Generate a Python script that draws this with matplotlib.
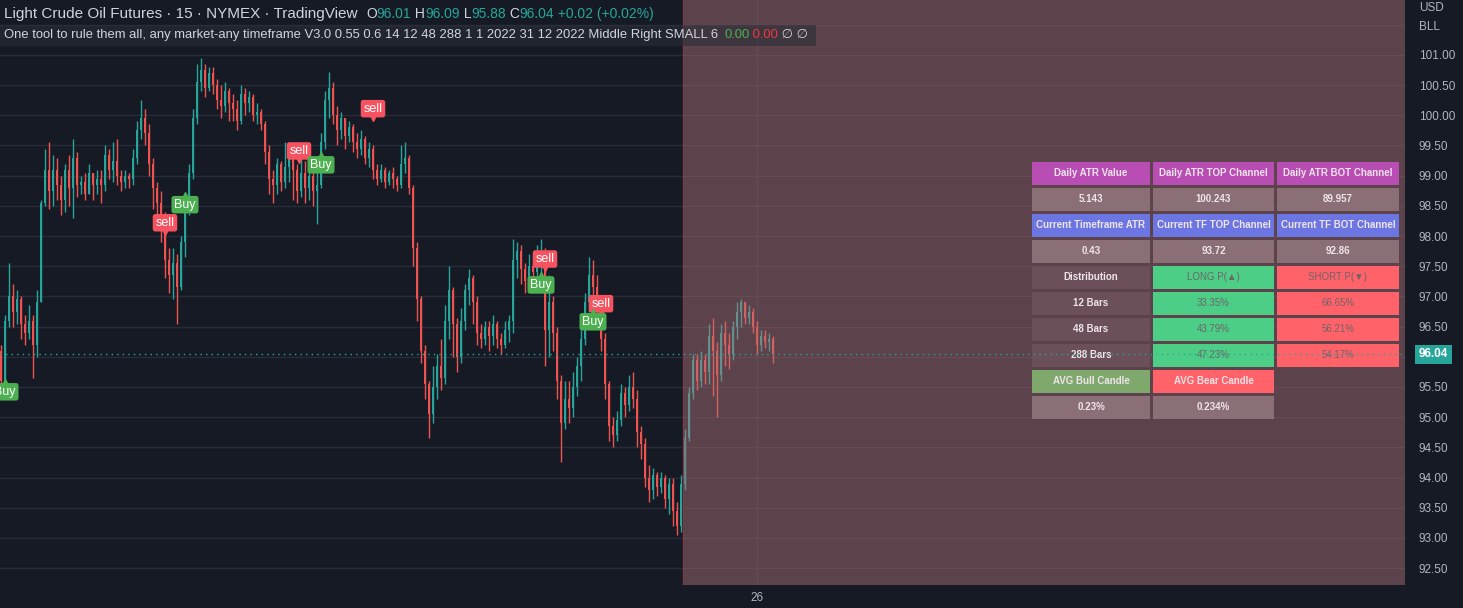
import matplotlib
matplotlib.use('Agg')
import matplotlib.pyplot as plt
from matplotlib.patches import Rectangle
from matplotlib.transforms import blended_transform_factory, ScaledTranslation

plt.rcParams['font.family'] = ['Liberation Sans', 'DejaVu Sans']

# --- 15 min bars (open = previous close) ---
first_open = 96.10
closes = [
    95.60, 96.60, 97.00, 96.75, 96.95, 96.55, 96.40, 96.60, 96.20, 96.90,
    98.55, 99.10, 98.75, 99.10, 98.85, 98.60, 99.10, 98.80, 99.30, 98.85,
    98.90, 98.70, 99.05, 98.85, 98.95, 98.85, 99.35, 99.10, 99.25, 99.00,
    98.90, 99.00, 98.95, 99.30, 99.75, 99.95, 99.70, 99.20, 98.80, 98.55,
    98.30, 97.60, 97.35, 97.55, 97.15, 97.90, 98.40, 99.05, 99.95, 100.55,
    100.75, 100.45, 100.70, 100.50, 100.25, 100.15, 100.40, 100.20, 100.10, 99.90,
    100.35, 100.20, 100.30, 100.00, 100.05, 99.85, 99.40, 98.95, 98.85, 99.20,
    98.90, 99.15, 99.40, 99.10, 98.75, 99.05, 98.80, 99.00, 98.75, 98.85,
    99.55, 100.25, 100.45, 100.00, 99.75, 99.95, 99.65, 99.80, 99.55, 99.45,
    99.60, 99.30, 99.45, 99.10, 98.95, 99.10, 98.90, 99.05, 98.95, 98.85,
    99.20, 99.30, 98.80, 97.80, 96.95, 96.10, 95.55, 95.05, 95.50, 95.85,
    95.65, 96.60, 97.10, 96.55, 96.00, 96.60, 97.10, 97.30, 96.90, 96.40,
    96.30, 96.50, 96.35, 96.55, 96.30, 96.20, 96.45, 96.60, 97.60, 97.75,
    97.45, 97.25, 97.50, 97.40, 97.60, 97.75, 96.45, 96.90, 96.40, 95.60,
    94.90, 95.30, 95.15, 95.50, 95.85, 96.30, 96.90, 97.35, 97.15, 96.85,
    96.30, 95.55, 94.85, 94.70, 94.95, 95.40, 95.20, 95.50, 95.30, 94.75,
    94.55, 94.00, 93.80, 94.05, 93.85, 94.00, 93.65, 93.90, 93.45, 93.20,
    93.90, 94.65, 95.40, 95.95, 95.60, 95.95, 95.75, 96.35, 96.10, 95.70,
    96.40, 96.20, 96.05, 96.50, 96.75, 96.90, 96.65, 96.75, 96.50, 96.20,
    96.35, 96.25, 96.30, 96.04,
]
highs = [
    96.20, 96.70, 97.55, 97.20, 97.10, 97.00, 96.70, 96.85, 96.70, 97.10,
    98.60, 99.45, 99.55, 99.35, 99.30, 99.00, 99.20, 99.35, 99.60, 99.40,
    99.00, 99.05, 99.20, 99.00, 99.10, 99.10, 99.50, 99.45, 99.55, 99.60,
    99.10, 99.10, 99.05, 99.45, 99.90, 100.25, 100.10, 99.85, 99.30, 98.90,
    98.75, 98.40, 97.80, 97.80, 97.70, 98.00, 98.55, 99.20, 100.10, 100.85,
    100.95, 100.85, 100.80, 100.80, 100.60, 100.50, 100.55, 100.45, 100.35, 100.25,
    100.50, 100.45, 100.40, 100.35, 100.20, 100.10, 99.90, 99.50, 99.10, 99.30,
    99.25, 99.55, 99.50, 99.40, 99.20, 99.30, 99.25, 99.20, 99.30, 99.15,
    99.70, 100.40, 100.72, 100.55, 100.15, 100.05, 99.95, 99.90, 99.85, 99.70,
    99.75, 99.65, 99.55, 99.50, 99.20, 99.20, 99.15, 99.10, 99.15, 99.00,
    99.50, 99.55, 99.35, 98.85, 97.90, 97.00, 96.20, 95.60, 95.85, 96.05,
    96.30, 96.85, 97.50, 97.15, 96.65, 96.80, 97.20, 97.45, 97.35, 97.00,
    96.55, 96.60, 96.60, 96.70, 96.60, 96.40, 96.60, 96.70, 97.95, 97.90,
    97.85, 97.55, 97.70, 97.65, 97.85, 97.95, 97.80, 97.35, 97.00, 96.50,
    95.70, 95.60, 95.60, 95.75, 96.00, 96.45, 97.05, 97.65, 97.60, 97.35,
    96.95, 96.40, 95.60, 95.00, 95.10, 95.55, 95.50, 95.70, 95.75, 95.45,
    94.85, 94.65, 94.20, 94.15, 94.10, 94.10, 94.05, 94.00, 94.00, 93.60,
    94.05, 94.80, 95.50, 96.05, 96.05, 96.10, 96.05, 96.55, 96.65, 96.25,
    96.55, 96.60, 96.40, 96.60, 96.90, 96.95, 96.90, 96.85, 96.80, 96.60,
    96.45, 96.45, 96.40, 96.35,
]
lows = [
    95.30, 95.45, 96.50, 96.50, 96.55, 96.30, 96.20, 96.30, 95.65, 96.00,
    96.90, 98.50, 98.45, 98.50, 98.60, 98.35, 98.40, 98.50, 98.30, 98.65,
    98.70, 98.60, 98.75, 98.60, 98.70, 98.55, 98.75, 98.95, 98.90, 98.85,
    98.75, 98.80, 98.80, 98.85, 99.20, 99.60, 99.50, 99.00, 98.45, 98.35,
    97.90, 97.30, 97.05, 96.95, 96.55, 97.10, 97.65, 98.35, 98.95, 99.85,
    100.40, 100.30, 100.40, 100.35, 100.10, 99.95, 100.05, 99.90, 99.90, 99.75,
    99.85, 100.00, 100.05, 99.90, 99.85, 99.75, 99.20, 98.70, 98.55, 98.70,
    98.75, 98.80, 98.90, 98.60, 98.55, 98.65, 98.55, 98.60, 98.50, 98.20,
    98.80, 99.45, 99.95, 99.85, 99.50, 99.60, 99.45, 99.55, 99.40, 99.30,
    99.35, 99.20, 99.15, 98.95, 98.85, 98.90, 98.80, 98.85, 98.80, 98.75,
    98.80, 99.05, 98.70, 97.50, 96.60, 95.90, 95.30, 94.65, 94.90, 95.30,
    95.45, 95.55, 96.30, 96.00, 95.75, 95.90, 96.45, 96.85, 96.55, 96.20,
    96.15, 96.20, 96.10, 96.20, 96.15, 96.05, 96.15, 96.25, 96.40, 97.30,
    97.20, 97.05, 97.15, 97.10, 97.30, 97.35, 95.85, 96.00, 96.10, 95.30,
    94.25, 94.80, 94.90, 95.00, 95.35, 95.60, 96.20, 96.75, 96.90, 96.55,
    96.10, 95.30, 94.60, 94.50, 94.60, 94.85, 95.00, 95.10, 95.15, 94.50,
    94.30, 93.85, 93.60, 93.65, 93.70, 93.75, 93.50, 93.40, 93.20, 93.05,
    93.10, 93.80, 94.60, 95.30, 95.45, 95.50, 95.55, 95.55, 95.35, 95.00,
    95.60, 95.85, 95.80, 95.95, 96.30, 96.50, 96.55, 96.55, 96.40, 96.05,
    96.10, 96.15, 96.10, 95.90,
]
opens = [first_open] + closes[:-1]

# signal labels: bar index, price, kind
signal_bars = [1, 41, 46, 74.5, 80, 93, 136, 135, 150, 148]
signal_prices = [95.42, 98.22, 98.52, 99.41, 99.18, 100.11, 97.62, 97.19, 96.88, 96.58]
signal_kinds = ['Buy', 'sell', 'Buy', 'sell', 'Buy', 'sell', 'sell', 'Buy', 'sell', 'Buy']

session_start = 170.5   # first bar of the highlighted session
day_tick = 189          # "26"
price_ticks = [92.5, 93.0, 93.5, 94.0, 94.5, 95.0, 95.5, 96.5, 97.0, 97.5,
               98.0, 98.5, 99.0, 99.5, 100.0, 100.5, 101.0]
grid_levels = [92.5 + 0.5 * k for k in range(19)]

# legend lines
title = 'Light Crude Oil Futures \u00b7 15 \u00b7 NYMEX \u00b7 TradingView'
ohlc_labels = ['O', 'H', 'L', 'C']
ohlc_values = ['96.01', '96.09', '95.88', '96.04']
change_text = '+0.02 (+0.02%)'
study_text = ('One tool to rule them all, any market-any timeframe V3.0 0.55 0.6 14 12 48 288 '
              '1 1 2022 31 12 2022 Middle Right SMALL 6')
study_values = ['0.00', '0.00', '\u2205', '\u2205']

# indicator table
table_rows = [
    ['Daily ATR Value', 'Daily ATR TOP Channel', 'Daily ATR BOT Channel'],
    ['5.143', '100.243', '89.957'],
    ['Current Timeframe ATR', 'Current TF TOP Channel', 'Current TF BOT Channel'],
    ['0.43', '93.72', '92.86'],
    ['Distribution', 'LONG P(\u25b2)', 'SHORT P(\u25bc)'],
    ['12 Bars', '33.35%', '66.65%'],
    ['48 Bars', '43.79%', '56.21%'],
    ['288 Bars', '47.23%', '54.17%'],
    ['AVG Bull Candle', 'AVG Bear Candle', None],
    ['0.23%', '0.234%', None],
]
PURPLE, VAL, BLUE, DIST = '#b84db4', '#8a7076', '#6c76e2', '#6b4f59'
GREEN, RED, BULL = '#4cce87', '#ff6268', '#7fa86d'
table_colors = [
    [PURPLE, PURPLE, PURPLE],
    [VAL, VAL, VAL],
    [BLUE, BLUE, BLUE],
    [VAL, VAL, VAL],
    [DIST, GREEN, RED],
    [DIST, GREEN, RED],
    [DIST, GREEN, RED],
    [DIST, GREEN, RED],
    [BULL, RED, None],
    [VAL, VAL, None],
]

BG = '#161a25'
GRID = '#282c38'
UP, DOWN = '#26a69a', '#ef5350'
TXT = '#b2b5be'
HEAD = '#d1d4dc'

W, H = 1463, 608
fig = plt.figure(figsize=(W / 100, H / 100), dpi=100, facecolor=BG)
ax = fig.add_axes([0, 23 / H, 1405 / W, 585 / H])
ax.set_facecolor(BG)
for s in ax.spines.values():
    s.set_visible(False)
ax.set_xlim(-0.25, 351.0)
ax.set_ylim(92.22, 101.91)


def fx(x):
    return x / W


def fy(y):
    return 1 - y / H


renderer = fig.canvas.get_renderer()


def seq_text(x, y, parts, size, gap=0):
    # write coloured pieces one after another on one line
    for s, col in parts:
        t = fig.text(fx(x), fy(y), s, color=col, fontsize=size, va='center', zorder=11)
        x += t.get_window_extent(renderer=renderer).width + gap
    return x


# grid
for lv in grid_levels:
    ax.axhline(lv, color=GRID, lw=1, zorder=0)
ax.axvline(day_tick, color=GRID, lw=1, zorder=0)

# candles
for i in range(len(closes)):
    o, c = opens[i], closes[i]
    hi = max(highs[i], o, c)
    lo = min(lows[i], o, c)
    col = UP if c >= o else DOWN
    ax.vlines(i, lo, hi, color=col, lw=1, zorder=2)
    ax.bar(i, max(abs(c - o), 0.012), bottom=min(o, c), width=0.6,
           color=col, lw=0, zorder=2)

# highlighted session overlay
ax.axvspan(session_start, 351.0, color='#b27379', alpha=0.45, lw=0, zorder=3)
ax.axvline(session_start, color='#7d3b46', lw=1, zorder=3)

# buy / sell labels
for b, p, k in zip(signal_bars, signal_prices, signal_kinds):
    fc = '#4caf50' if k == 'Buy' else '#f7525f'
    ax.text(b, p, k, ha='center', va='center', color='white', fontsize=9,
            zorder=5, bbox=dict(boxstyle='round,pad=0.22,rounding_size=0.2', fc=fc, ec='none'))
    dy = 0.095 if k == 'Buy' else -0.095
    off = ScaledTranslation(0, dy, fig.dpi_scale_trans)
    ax.plot(b, p, marker='^' if k == 'Buy' else 'v', ms=4, color=fc,
            transform=ax.transData + off, zorder=5)

# last price line + badge
last = closes[-1]
ax.axhline(last, color=UP, lw=1, ls=(0, (1, 3)), zorder=8)
bt = blended_transform_factory(ax.transAxes, ax.transData)
ax.text(1419 / 1405, last, f'{last:.2f}', transform=bt, ha='left', va='center',
        color='white', fontsize=8.5, fontweight='bold', clip_on=False, zorder=9,
        bbox=dict(boxstyle='square,pad=0.3', fc=UP, ec='none'))

# axes ticks
ax.yaxis.tick_right()
ax.set_yticks(price_ticks)
ax.set_yticklabels([f'{v:.2f}' for v in price_ticks])
ax.tick_params(axis='y', length=0, pad=10, labelsize=8.5, labelcolor=TXT)
ax.set_xticks([day_tick])
ax.set_xticklabels(['26'])
ax.tick_params(axis='x', length=0, pad=5, labelsize=8.5, labelcolor=TXT)
fig.text(fx(1419), fy(8), 'USD', color=TXT, fontsize=8.5, va='center')
fig.text(fx(1419), fy(27), 'BLL', color=TXT, fontsize=8.5, va='center')

# table (drawn inside the axes so the price line can pass over it)
col_x = [(1032, 1150), (1153, 1274), (1277, 1399)]
for r, row in enumerate(table_rows):
    top = 162 + 26 * r
    for c, txt in enumerate(row):
        colr = table_colors[r][c]
        if colr is None:
            continue
        x0, x1 = col_x[c]
        ax.add_patch(Rectangle((fx(x0), fy(top + 23)), fx(x1 - x0), 23 / H,
                               transform=fig.transFigure, fc=colr, ec='none',
                               clip_on=False, zorder=6))
        dim = colr in (GREEN, RED) and r in (4, 5, 6, 7)
        ax.text(fx((x0 + x1) / 2), fy(top + 11.5), txt, transform=fig.transFigure,
                ha='center', va='center', fontsize=7, clip_on=False, zorder=7,
                color='#6e6468' if dim else '#efe4ea',
                fontweight='normal' if dim else 'bold')

# header
fig.patches.append(Rectangle((fx(0), fy(46)), fx(816), 21 / H, transform=fig.transFigure,
                             fc='#2a2e39', ec='none', alpha=0.6, zorder=10))
seq_text(4, 14, [(title, HEAD)], 11)
parts = []
for k, (lab, val) in enumerate(zip(ohlc_labels, ohlc_values)):
    parts.append((lab if k == 0 else ' ' + lab, HEAD))
    parts.append((val, UP))
parts.append((' ' + change_text, UP))
seq_text(366, 14, parts, 10)

x_end = seq_text(4, 35, [(study_text, HEAD)], 9.4)
seq_text(x_end + 6, 35, [(study_values[0], '#4caf50'), (' ' + study_values[1], '#f23645'),
                         (' ' + study_values[2] + ' ' + study_values[3], HEAD)], 9.4)

fig.savefig('out.png', dpi=100, facecolor=BG)
